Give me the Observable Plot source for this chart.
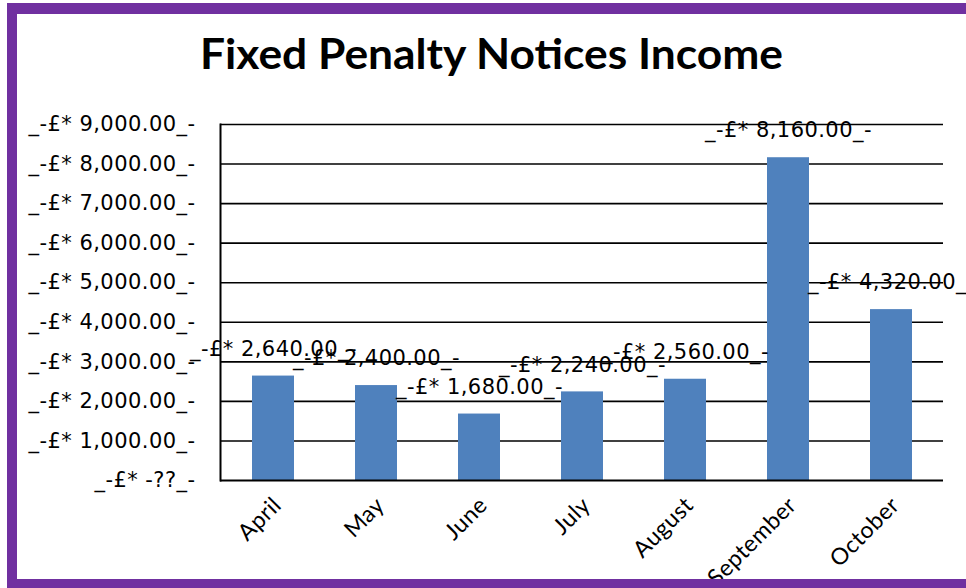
<!DOCTYPE html>
<html>
<head>
<meta charset="utf-8">
<script src="https://cdn.jsdelivr.net/npm/d3@7"></script>
<script src="https://cdn.jsdelivr.net/npm/@observablehq/plot@0.6"></script>
<style>
html, body { margin: 0; padding: 0; background: #fff; overflow: hidden; }
#wrap { position: relative; width: 966px; height: 588px; overflow: hidden; background: #fff; }
#chart { position: absolute; left: 0; top: 0; }
#chart text { letter-spacing: 0.45px; }
#chart g[aria-label="month-label"] text { letter-spacing: 0; }
#title { position: absolute; left: 0; top: 0; }
#border { position: absolute; left: 7px; top: 3px; width: 1000px; height: 565px;
  border-style: solid; border-color: #7030A0; border-width: 11px 0 10px 10px; pointer-events: none; }
</style>
</head>
<body>
<div id="wrap">
  <div id="chart"></div>
  <svg id="title" width="966" height="100">
    <text x="200" y="69" textLength="583" lengthAdjust="spacingAndGlyphs"
      font-family="Lato" font-weight="bold" font-size="42" fill="#000">Fixed Penalty Notices Income</text>
  </svg>
  <div id="border"></div>
</div>
<script>
const months = ["April", "May", "June", "July", "August", "September", "October"];
const income = [2640, 2400, 1680, 2240, 2560, 8160, 4320];
const valueLabels = ["_-£* 2,640.00_-", "_-£* 2,400.00_-", "_-£* 1,680.00_-", "_-£* 2,240.00_-",
  "_-£* 2,560.00_-", "_-£* 8,160.00_-", "_-£* 4,320.00_-"];
const yTicks = [0, 1000, 2000, 3000, 4000, 5000, 6000, 7000, 8000, 9000];
const yTickLabels = ["_-£* -??_-", "_-£* 1,000.00_-", "_-£* 2,000.00_-", "_-£* 3,000.00_-",
  "_-£* 4,000.00_-", "_-£* 5,000.00_-", "_-£* 6,000.00_-", "_-£* 7,000.00_-",
  "_-£* 8,000.00_-", "_-£* 9,000.00_-"];

const data = months.map((m, i) => ({ month: m, value: income[i], label: valueLabels[i] }));

const chart = Plot.plot({
  width: 966,
  height: 588,
  marginLeft: 220,
  marginRight: 23,
  marginTop: 124,
  marginBottom: 108,
  x: { domain: months, paddingInner: 0.594, paddingOuter: 0.297, axis: null },
  y: { domain: [0, 9000], axis: null },
  style: { background: "transparent", color: "#000", overflow: "visible" },
  marks: [
    Plot.gridY(yTicks.slice(1), { stroke: "#000", strokeOpacity: 1, strokeWidth: 1.6 }),
    Plot.barY(data, { x: "month", y: "value", fill: "#4F81BD" }),
    Plot.ruleY([0], { stroke: "#000", strokeWidth: 2 }),
    Plot.frame({ anchor: "left", stroke: "#000", strokeWidth: 2 }),
    Plot.axisY({
      ticks: yTicks,
      tickFormat: d => yTickLabels[yTicks.indexOf(d)],
      tickSize: 0, tickPadding: 25, fontSize: 21, fontFamily: "DejaVu Sans",
      fill: "#000", label: null
    }),
    Plot.text(data, {
      x: "month", y: "value", text: "label", dy: -27, lineAnchor: "middle",
      fontSize: 21, fontFamily: "DejaVu Sans", fill: "#000"
    }),
    Plot.text(data, {
      x: "month", frameAnchor: "bottom", text: "month", rotate: -45, textAnchor: "end",
      lineAnchor: "middle", dx: 4, dy: 21, fontSize: 23, fontFamily: "Lato", fill: "#000",
      ariaLabel: "month-label"
    })
  ]
});
document.getElementById("chart").appendChild(chart);
</script>
</body>
</html>
